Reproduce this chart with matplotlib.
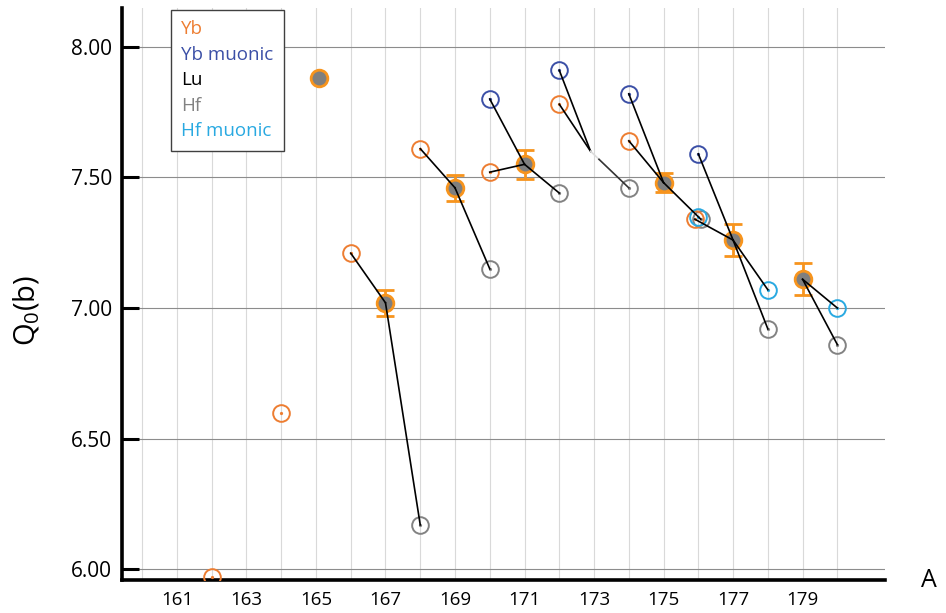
import numpy as np
import matplotlib
matplotlib.use('Agg')
import matplotlib.pyplot as plt
from matplotlib.lines import Line2D
from matplotlib.ticker import FixedLocator

plt.rcParams['font.family'] = ['Open Sans', 'DejaVu Sans']
plt.rcParams['mathtext.fontset'] = 'custom'
plt.rcParams['mathtext.rm'] = 'Open Sans'
plt.rcParams['mathtext.default'] = 'regular'

# data
A_yb = [162, 164, 166, 168, 170, 172, 174, 175.9]
Q_yb = [5.97, 6.60, 7.21, 7.61, 7.52, 7.78, 7.64, 7.34]

A_yb_mu = [170, 172, 174, 176]
Q_yb_mu = [7.80, 7.91, 7.82, 7.59]

A_lu = [165.1, 167, 169, 171, 175, 177, 179]
Q_lu = [7.88, 7.02, 7.46, 7.55, 7.48, 7.26, 7.11]
err_lu = [0.0, 0.05, 0.05, 0.055, 0.037, 0.06, 0.062]

A_hf = [168, 170, 172, 174, 176.07, 178, 180]
Q_hf = [6.17, 7.15, 7.44, 7.46, 7.34, 6.92, 6.86]

A_hf_mu = [176, 178, 180]
Q_hf_mu = [7.35, 7.07, 7.00]

# unmarked junction point between 172 and 174
A_hub = [172.9]
Q_hub = [7.60]

# connecting lines: (series, A) -> (series, A)
links = [
    ('Yb', 166, 'Lu', 167), ('Lu', 167, 'Hf', 168),
    ('Yb', 168, 'Lu', 169), ('Lu', 169, 'Hf', 170),
    ('Yb', 170, 'Lu', 171), ('Yb mu', 170, 'Lu', 171), ('Lu', 171, 'Hf', 172),
    ('Yb', 172, 'hub', 173), ('Yb mu', 172, 'hub', 173),
    ('Yb', 174, 'Lu', 175), ('Yb mu', 174, 'Lu', 175), ('Lu', 175, 'Hf', 176),
    ('Yb', 176, 'Lu', 177), ('Yb mu', 176, 'Lu', 177),
    ('Lu', 177, 'Hf', 178), ('Lu', 177, 'Hf mu', 178),
    ('Lu', 179, 'Hf', 180), ('Lu', 179, 'Hf mu', 180),
]
fading_link = ('hub', 173, 'Hf', 174)

legend_labels = ['Yb', 'Yb muonic', 'Lu', 'Hf', 'Hf muonic']

C_YB = '#ed7d31'
C_YB_MU = '#3b4fa6'
C_LU = '#000000'
C_HF = '#828282'
C_HF_MU = '#29a9e1'
C_FILL = '#7f7f7f'
C_EDGE = '#f7941d'

series = {
    'Yb': (A_yb, Q_yb), 'Yb mu': (A_yb_mu, Q_yb_mu), 'Lu': (A_lu, Q_lu),
    'Hf': (A_hf, Q_hf), 'Hf mu': (A_hf_mu, Q_hf_mu), 'hub': (A_hub, Q_hub),
}


def point(name, a):
    xs, ys = series[name]
    i = int(np.argmin(np.abs(np.array(xs) - a)))
    return xs[i], ys[i]


fig = plt.figure(figsize=(9.46, 6.13), dpi=100)
ax = fig.add_axes([0.1286, 0.0538, 0.8069, 0.9326])

# open circles with a tiny centre dot
for xs, ys, c in [(A_hf, Q_hf, C_HF), (A_yb, Q_yb, C_YB),
                  (A_yb_mu, Q_yb_mu, C_YB_MU), (A_hf_mu, Q_hf_mu, C_HF_MU)]:
    ax.plot(xs, ys, 'o', ms=12, mfc='none', mec=c, mew=1.4, zorder=3)
    ax.plot(xs, ys, 'o', ms=1.3, color=c, zorder=3)

# filled points with error bars
A_l = np.array(A_lu)
Q_l = np.array(Q_lu)
e_l = np.array(err_lu)
m = e_l > 0
ax.errorbar(A_l[m], Q_l[m], yerr=e_l[m], fmt='none', ecolor=C_EDGE,
            elinewidth=2, capsize=6.5, capthick=2, zorder=3)
ax.plot(A_lu, Q_lu, 'o', ms=12, mfc=C_FILL, mec=C_EDGE, mew=2, zorder=4)

for s1, a1, s2, a2 in links:
    x1, y1 = point(s1, a1)
    x2, y2 = point(s2, a2)
    ax.plot([x1, x2], [y1, y2], color='black', lw=1.2, zorder=5)

# segment that starts faded
x1, y1 = point(fading_link[0], fading_link[1])
x2, y2 = point(fading_link[2], fading_link[3])
f = 0.22
xm, ym = x1 + f * (x2 - x1), y1 + f * (y2 - y1)
ax.plot([x1, xm], [y1, ym], color='#dcdcdc', lw=1.2, zorder=5)
ax.plot([xm, x2], [ym, y2], color='#333333', lw=1.2, zorder=5)

ax.set_xlim(159.41, 181.37)
ax.set_ylim(5.959, 8.147)

ax.xaxis.set_major_locator(FixedLocator(list(range(161, 180, 2))))
ax.xaxis.set_minor_locator(FixedLocator(list(range(160, 181))))
ax.set_yticks([6.0, 6.5, 7.0, 7.5, 8.0])
ax.set_yticklabels(['%.2f' % v for v in [6.0, 6.5, 7.0, 7.5, 8.0]])

ax.tick_params(axis='x', which='both', length=0, labelsize=13.5, pad=8)
ax.tick_params(axis='y', direction='in', length=12, width=2.2, labelsize=15, pad=7)

ax.grid(axis='x', which='both', color='#d9d9d9', lw=0.8, zorder=0)
ax.grid(axis='y', which='major', color='#8c8c8c', lw=0.8, zorder=0)
ax.set_axisbelow(True)

for s in ['top', 'right']:
    ax.spines[s].set_visible(False)
for s in ['left', 'bottom']:
    ax.spines[s].set_linewidth(2.6)
    ax.spines[s].set_color('black')

handles = [Line2D([], [], linestyle='none') for _ in legend_labels]
leg = ax.legend(handles, legend_labels, loc='upper left',
                bbox_to_anchor=(0.0642, 0.997), borderaxespad=0,
                handlelength=0, handletextpad=0, fancybox=False,
                framealpha=1, edgecolor='#404040', fontsize=13.5,
                labelspacing=0.4, borderpad=0.55,
                labelcolor=[C_YB, C_YB_MU, C_LU, C_HF, C_HF_MU])
leg.get_frame().set_linewidth(1.0)
leg.set_zorder(10)

fig.text(0.0285, 0.494, 'Q$_0$(b)', rotation=90, fontsize=21,
         ha='center', va='center')
fig.text(0.9823, 0.0538, 'A', fontsize=18, ha='center', va='center')

fig.savefig('out.png', dpi=100)
